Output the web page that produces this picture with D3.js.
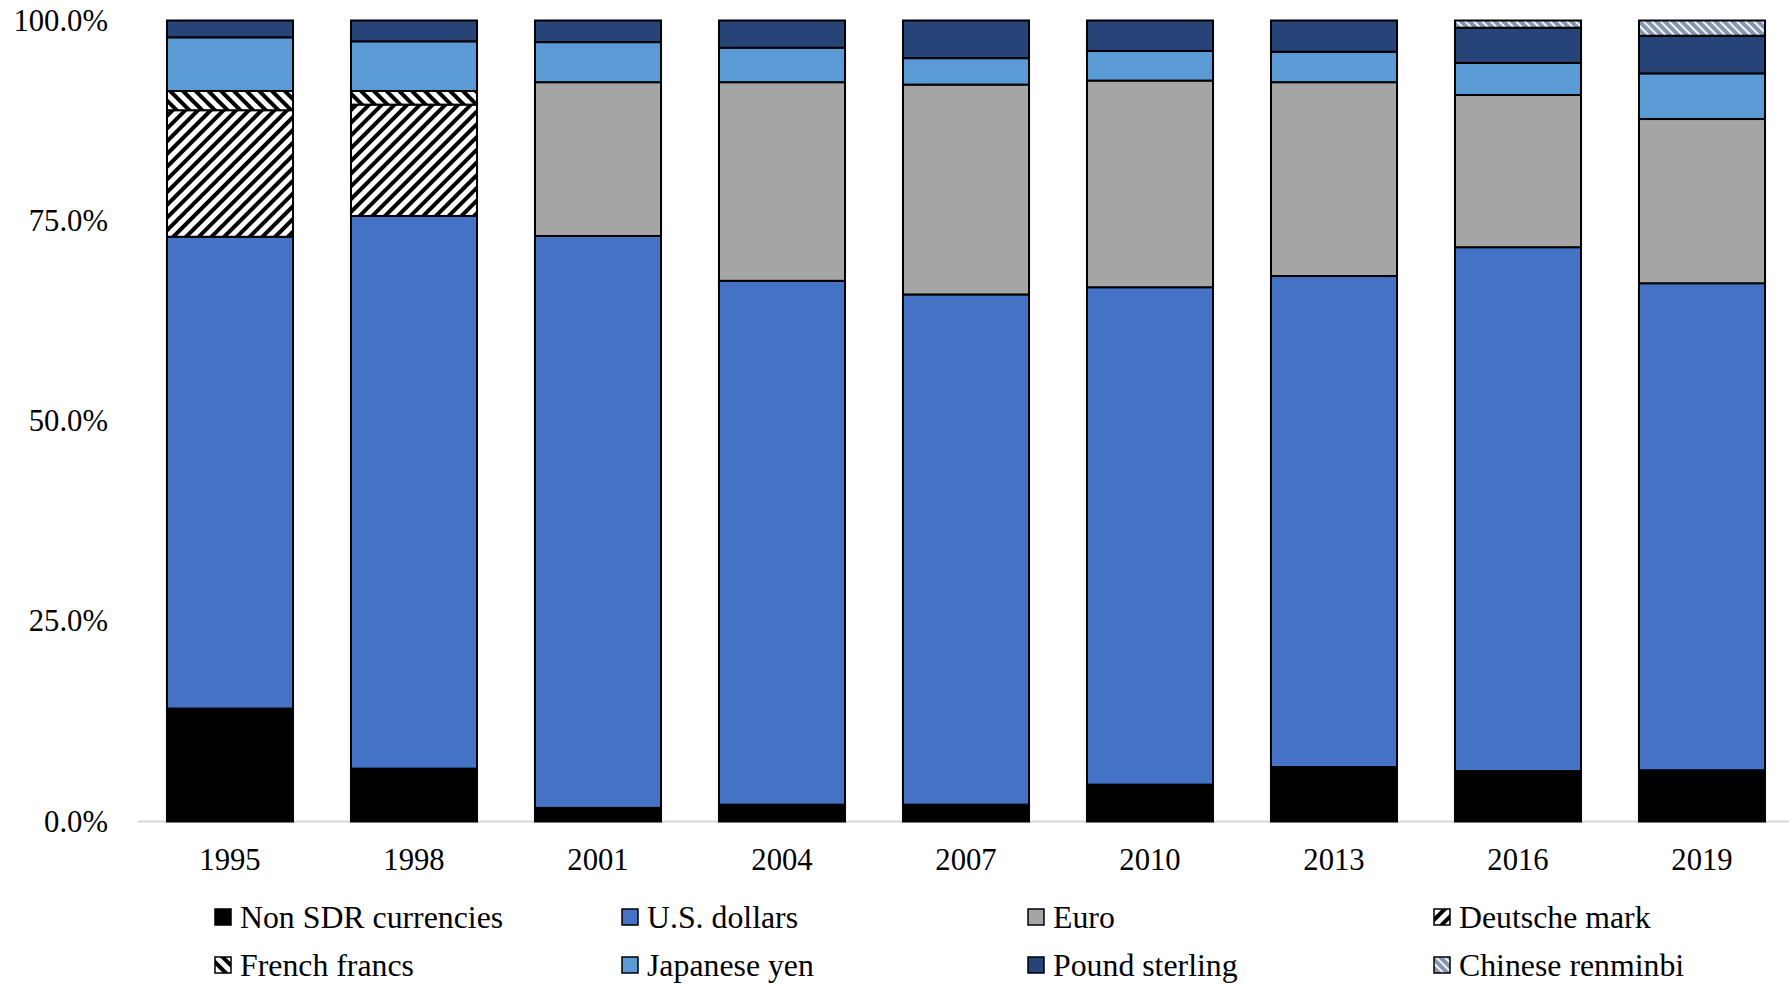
<!DOCTYPE html>
<html>
<head>
<meta charset="utf-8">
<script src="https://cdn.jsdelivr.net/npm/d3@7"></script>
<style>
  html, body { margin: 0; padding: 0; background: #fff; }
  svg { display: block; font-family: "Liberation Serif", "Times New Roman", serif; }
</style>
</head>
<body>
<svg id="chart" width="1789" height="987"></svg>
<script>
// Currency composition of reserves, shares in percent
const years = ["1995", "1998", "2001", "2004", "2007", "2010", "2013", "2016", "2019"];
const nonSDR   = [14.1,  6.6,  1.7,  2.1,  2.1,  4.6,  6.8,  6.3,  6.4];
const usDollar = [58.9, 69.0, 71.4, 65.4, 63.7, 62.1, 61.3, 65.4, 60.8];
const euro     = [ 0.0,  0.0, 19.2, 24.8, 26.2, 25.8, 24.2, 19.0, 20.5];
const dMark    = [15.8, 13.9,  0.0,  0.0,  0.0,  0.0,  0.0,  0.0,  0.0];
const fFranc   = [ 2.4,  1.7,  0.0,  0.0,  0.0,  0.0,  0.0,  0.0,  0.0];
const yen      = [ 6.7,  6.2,  5.0,  4.3,  3.3,  3.7,  3.8,  4.0,  5.7];
const pound    = [ 2.1,  2.6,  2.7,  3.4,  4.7,  3.8,  3.9,  4.4,  4.7];
const renminbi = [ 0.0,  0.0,  0.0,  0.0,  0.0,  0.0,  0.0,  0.9,  1.9];

const seriesNames = ["Non SDR currencies", "U.S. dollars", "Euro", "Deutsche mark",
                     "French francs", "Japanese yen", "Pound sterling", "Chinese renminbi"];
const seriesValues = [nonSDR, usDollar, euro, dMark, fFranc, yen, pound, renminbi];
const yTicks = [0, 25, 50, 75, 100];

const fills = ["#000000", "#4472C4", "#A5A5A5", "url(#pat-dm)", "url(#pat-ff)",
               "#5B9BD5", "#264478", "url(#pat-rmb)"];

const svg = d3.select("#chart");
const defs = svg.append("defs");

// Wide upward diagonal hatch
const dm = defs.append("pattern").attr("id", "pat-dm").attr("patternUnits", "userSpaceOnUse")
  .attr("width", 9).attr("height", 9).attr("patternTransform", "rotate(45)");
dm.append("rect").attr("width", 9).attr("height", 9).attr("fill", "#fff");
dm.append("rect").attr("x", 0).attr("width", 4).attr("height", 9).attr("fill", "#000");

// Wide downward diagonal hatch
const ff = defs.append("pattern").attr("id", "pat-ff").attr("patternUnits", "userSpaceOnUse")
  .attr("width", 9).attr("height", 9).attr("patternTransform", "rotate(-45)");
ff.append("rect").attr("width", 9).attr("height", 9).attr("fill", "#fff");
ff.append("rect").attr("x", 0).attr("width", 4).attr("height", 9).attr("fill", "#000");

// Light dashed downward diagonal
const rmb = defs.append("pattern").attr("id", "pat-rmb").attr("patternUnits", "userSpaceOnUse")
  .attr("width", 6).attr("height", 6).attr("patternTransform", "rotate(-45)");
rmb.append("rect").attr("width", 6).attr("height", 6).attr("fill", "#8497B0");
rmb.append("rect").attr("x", 0).attr("width", 2).attr("height", 6).attr("fill", "#f4f6fa");

const x = d3.scaleBand().domain(years).range([138, 1794])
  .paddingInner(0.315).paddingOuter(0.1575);
const y = d3.scaleLinear().domain([0, 100]).range([821.5, 20.5]);

// Stack the series
const rows = years.map((yr, i) => {
  const r = { year: yr };
  seriesNames.forEach((n, k) => r[n] = seriesValues[k][i]);
  return r;
});
const stacked = d3.stack().keys(seriesNames)(rows);

// Y tick labels
svg.append("g").selectAll("text").data(yTicks).join("text")
  .attr("x", 108).attr("y", d => y(d))
  .attr("dy", "0.33em")
  .attr("text-anchor", "end")
  .attr("font-size", 30.7)
  .attr("fill", "#000")
  .text(d => d.toFixed(1) + "%");

// Baseline
svg.append("line")
  .attr("x1", x.range()[0]).attr("x2", x.range()[1])
  .attr("y1", y(0)).attr("y2", y(0))
  .attr("stroke", "#D9D9D9").attr("stroke-width", 2);

// Bars
const layers = svg.append("g").selectAll("g").data(stacked).join("g")
  .attr("fill", (d, i) => fills[i]);
layers.selectAll("rect").data(d => d.filter(s => s[1] - s[0] > 0)).join("rect")
  .attr("x", d => x(d.data.year))
  .attr("width", x.bandwidth())
  .attr("y", d => y(d[1]))
  .attr("height", d => y(d[0]) - y(d[1]))
  .attr("stroke", "#000")
  .attr("stroke-width", 2);

// X tick labels
svg.append("g").selectAll("text").data(years).join("text")
  .attr("x", d => x(d) + x.bandwidth() / 2)
  .attr("y", 859)
  .attr("dy", "0.35em")
  .attr("text-anchor", "middle")
  .attr("font-size", 30.7)
  .attr("fill", "#000")
  .text(d => d);

// Legend: two rows of four
const legX = [215, 622, 1028, 1434];
const legY = [917, 965];
const leg = svg.append("g").selectAll("g").data(seriesNames).join("g")
  .attr("transform", (d, i) => `translate(${legX[i % 4]},${legY[Math.floor(i / 4)]})`);
leg.append("rect")
  .attr("x", 0).attr("y", -8).attr("width", 16).attr("height", 16)
  .attr("fill", (d, i) => fills[i])
  .attr("stroke", "#000")
  .attr("stroke-width", 1.5);
leg.append("text")
  .attr("x", 25).attr("y", 0).attr("dy", "0.35em")
  .attr("font-size", 31.8)
  .attr("fill", "#000")
  .text(d => d);
</script>
</body>
</html>
